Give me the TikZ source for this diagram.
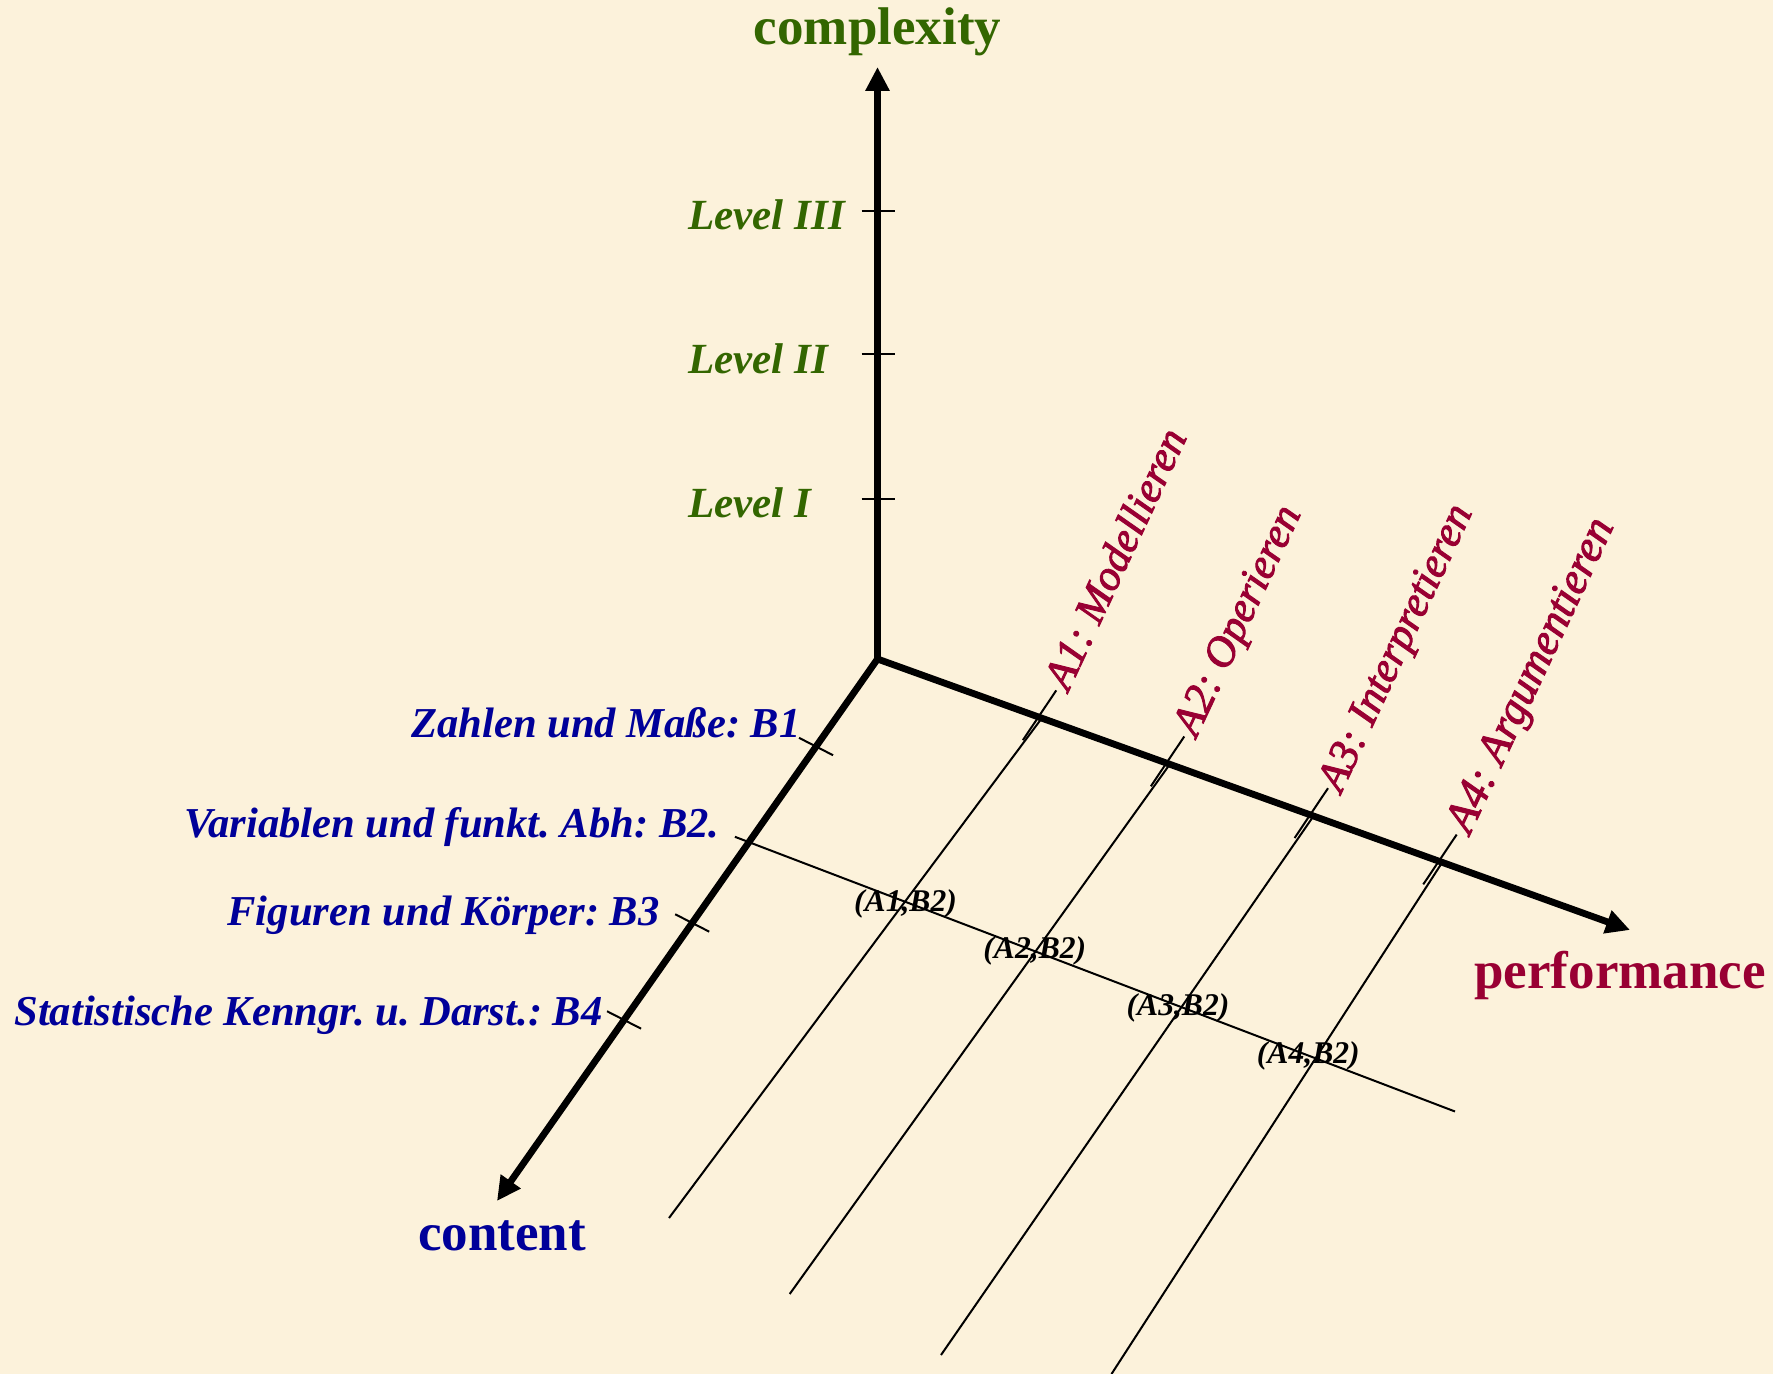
\documentclass[tikz,border=0pt]{standalone}
\usepackage{fontspec}
\setmainfont{Liberation Serif}
\newfontfamily\alabfont{Liberation Serif}[ItalicFont={Liberation Serif Italic}, ItalicFeatures={FakeBold=2.2}]
\usetikzlibrary{arrows.meta,calc}
\definecolor{bg}{RGB}{252,242,219}
\definecolor{cgreen}{RGB}{51,102,0}
\definecolor{cblue}{RGB}{0,0,153}
\definecolor{cred}{RGB}{153,0,51}
\frenchspacing
\begin{document}
\begin{tikzpicture}[x=0.5pt,y=-0.5pt,
  axisline/.style={line width=3.4pt},
  thinline/.style={line width=1pt},
  titlelab/.style={font=\fontsize{26.5}{30}\selectfont\bfseries, inner sep=0pt, anchor=base},
  lvllab/.style={font=\fontsize{21.5}{24}\selectfont\bfseries\itshape, text=cgreen, inner sep=0pt, anchor=base west},
  blab/.style={font=\fontsize{21.3}{24}\selectfont\bfseries\itshape, text=cblue, inner sep=0pt, anchor=base east},
  alab/.style={font=\fontsize{21.5}{24}\selectfont\alabfont\itshape, text=cred, inner sep=0pt, anchor=base west, rotate=65},
  celllab/.style={font=\fontsize{15.8}{18}\selectfont\bfseries\itshape, inner sep=0pt, anchor=base}]
\fill[bg] (0,0) rectangle (1773,1374);
\useasboundingbox (0,0) rectangle (1773,1374);
% axes
\coordinate (O) at (877.5,659);
\coordinate (Ztip) at (877.5,67);
\coordinate (Ptip) at (1630,930);
\coordinate (Ctip) at (497,1201);
\draw[axisline, line join=miter, {Triangle[length=12pt,width=11.5pt]}-{Triangle[length=12pt,width=11.5pt]}] (Ztip) -- (O) -- (Ptip);
\draw[axisline, line cap=round, -{Triangle[length=12pt,width=11.5pt]}] (O) -- (Ctip);
% titles
\node[titlelab, text=cgreen] (tz) at (877.5,45) {complexity};
\node[titlelab, text=cred] (tp) at (1620,988) {performance};
\node[titlelab, text=cblue] (tc) at (502,1250) {content};
% complexity levels
\coordinate (l1) at (877.5,498.6);
\coordinate (l2) at (877.5,354.5);
\coordinate (l3) at (877.5,210.8);
\foreach \c in {l1,l2,l3} \draw[thinline] ($(\c)+(-16,0)$) -- ($(\c)+(17.5,0)$);
\node[lvllab] (lv1) at (688,517.6) {Level I};
\node[lvllab] (lv2) at (688,373.6) {Level II};
\node[lvllab] (lv3) at (688,230) {Level III};
% content ticks
\coordinate (b1) at ($(O)!0.1615!(Ctip)$);
\coordinate (b2) at ($(O)!0.338!(Ctip)$);
\coordinate (b3) at ($(O)!0.487!(Ctip)$);
\coordinate (b4) at ($(O)!0.666!(Ctip)$);
\foreach \c in {b1,b3,b4} \draw[thinline] ($(\c)+(-17,-8.7)$) -- ($(\c)+(17,8.7)$);
\coordinate (b2s) at ($(b2)+(-14,-5.4)$);
\coordinate (b2e) at (1455,1111.5);
\draw[thinline] (b2s) -- (b2e);
\node[blab] (B1) at (801,737) {Zahlen und Maße: B1};
\node[blab] (B2) at (720,837) {Variablen und funkt. Abh: B2.};
\node[blab] (B3) at (660,925) {Figuren und Körper: B3};
\node[blab] (B4) at (603,1025) {Statistische Kenngr. u. Darst.: B4};
% performance ticks and lines
\coordinate (a1) at ($(O)!0.2139!(Ptip)$);
\coordinate (a2) at ($(O)!0.384!(Ptip)$);
\coordinate (a3) at ($(O)!0.575!(Ptip)$);
\coordinate (a4) at ($(O)!0.746!(Ptip)$);
\coordinate (e1) at (669,1218);
\coordinate (e2) at (789.7,1294);
\coordinate (e3) at (941,1355);
\coordinate (e4) at (1111.5,1374);
\foreach \i in {1,2,3,4} {
  \coordinate (t\i) at ($(a\i)+(17.8,-26.6)$);
  \draw[thinline] (t\i) -- ($(a\i)+(-15.6,23.2)$);
  \draw[thinline] ($(a\i)+(3.5,1)$) -- (e\i);
}
\node[alab] (A1) at ($(t1)+(12,2)$) {A1: Modellieren};
\node[alab] (A2) at ($(t2)+(12,2)$) {A2: Operieren};
\node[alab] (A3) at ($(t3)+(13,6)$) {A3: Interpretieren};
\node[alab, font=\fontsize{22.4}{24}\selectfont\alabfont\itshape] (A4) at ($(t4)+(13,1)$) {A4: Argumentieren};
% cells
\node[celllab] (c1) at (905.5,911.7) {(A1,B2)};
\node[celllab] (c2) at (1034.8,958) {(A2,B2)};
\node[celllab] (c3) at (1178,1015) {(A3,B2)};
\node[celllab] (c4) at (1308.3,1063.3) {(A4,B2)};
\end{tikzpicture}
\end{document}
